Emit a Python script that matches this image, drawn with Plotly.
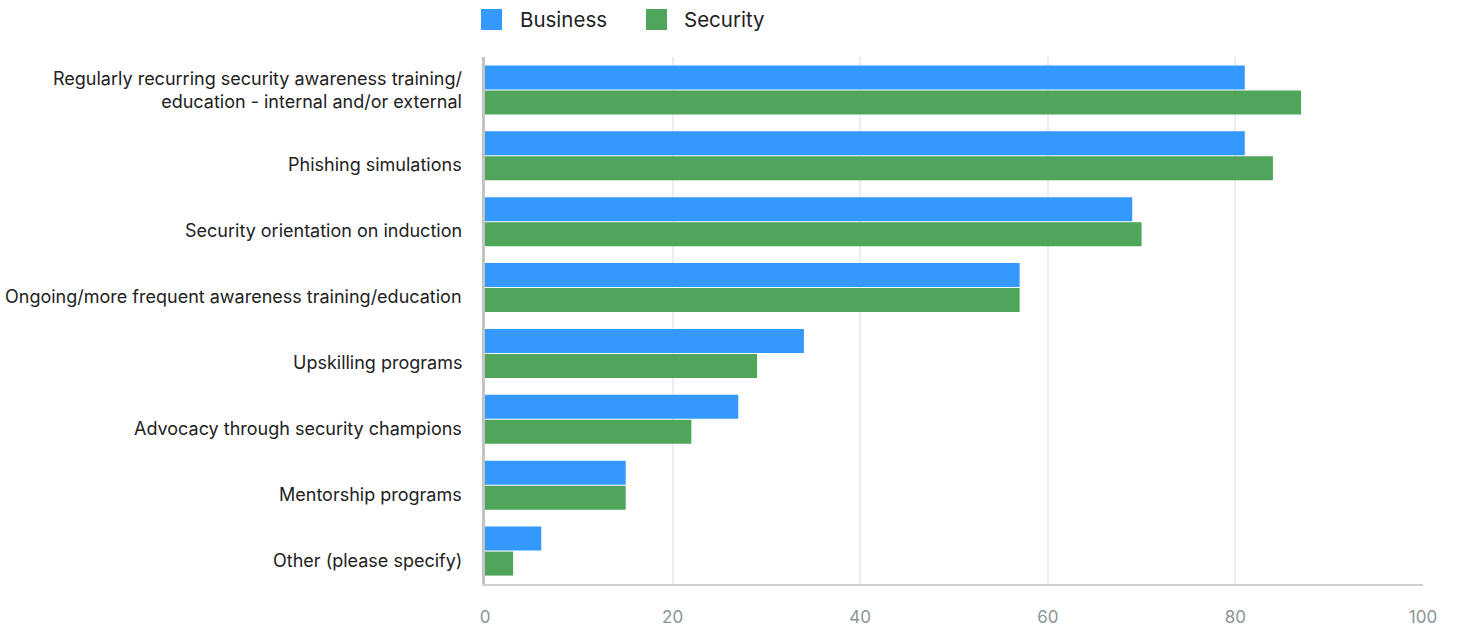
import plotly.graph_objects as go

categories = [
    "Regularly recurring security awareness training/<br>education - internal and/or external",
    "Phishing simulations",
    "Security orientation on induction",
    "Ongoing/more frequent awareness training/education",
    "Upskilling programs",
    "Advocacy through security champions",
    "Mentorship programs",
    "Other (please specify)",
]
business = [81, 81, 69, 57, 34, 27, 15, 6]
security = [87, 84, 70, 57, 29, 22, 15, 3]
x_ticks = [0, 20, 40, 60, 80, 100]

BLUE = "#3399FF"
GREEN = "#4FA55A"
FONT = "Inter"

fig = go.Figure()
fig.add_trace(go.Bar(name="Business", y=categories, x=business, orientation="h",
                     marker=dict(color=BLUE, line=dict(width=0))))
fig.add_trace(go.Bar(name="Security", y=categories, x=security, orientation="h",
                     marker=dict(color=GREEN, line=dict(width=0))))

fig.update_layout(
    width=1457, height=630,
    margin=dict(l=485, r=34, t=57, b=46),
    paper_bgcolor="white", plot_bgcolor="white",
    barmode="group", bargap=0.24, bargroupgap=0.04,
    showlegend=False,
    font=dict(family=FONT, size=18, color="#222222"),
)
fig.update_yaxes(
    autorange="reversed", automargin=False,
    showline=True, linecolor="#c4c4c4", linewidth=3,
    ticks="", showgrid=False, showticklabels=False,
)
fig.update_xaxes(
    range=[0, 100], tickvals=x_ticks, automargin=False,
    showline=True, linecolor="#d0d0d0", linewidth=1.5,
    showgrid=True, gridcolor="#eceeee", gridwidth=2,
    zeroline=False, ticks="", ticklabelstandoff=17,
    tickfont=dict(family=FONT, size=17, color="#8a9696"),
)

# Category labels, right-aligned left of the axis; single lines sit slightly low
for cat in categories:
    fig.add_annotation(text=cat, xref="paper", yref="y", x=0, y=cat,
                       xanchor="right", yanchor="middle", align="right",
                       xshift=-21, yshift=0 if "<br>" in cat else -9,
                       showarrow=False,
                       font=dict(family=FONT, size=18, color="#222222"))

# Legend drawn as swatches plus labels above the plot
legend_items = [("Business", BLUE, 481, 518), ("Security", GREEN, 646, 682)]
W = 1457
for name, color, sx, tx in legend_items:
    fig.add_shape(type="rect", xref="paper", yref="paper",
                  x0=(sx - 485) / (W - 485 - 34), x1=(sx + 21 - 485) / (W - 485 - 34),
                  y0=1 + (57 - 30) / (630 - 57 - 46), y1=1 + (57 - 9) / (630 - 57 - 46),
                  fillcolor=color, line=dict(width=0))
    fig.add_annotation(text=name, xref="paper", yref="paper",
                       x=(tx - 485) / (W - 485 - 34), y=1 + (57 - 19) / (630 - 57 - 46),
                       xanchor="left", yanchor="middle", showarrow=False,
                       font=dict(family=FONT, size=20.5, color="#222222"))

fig.write_html("out.html")
